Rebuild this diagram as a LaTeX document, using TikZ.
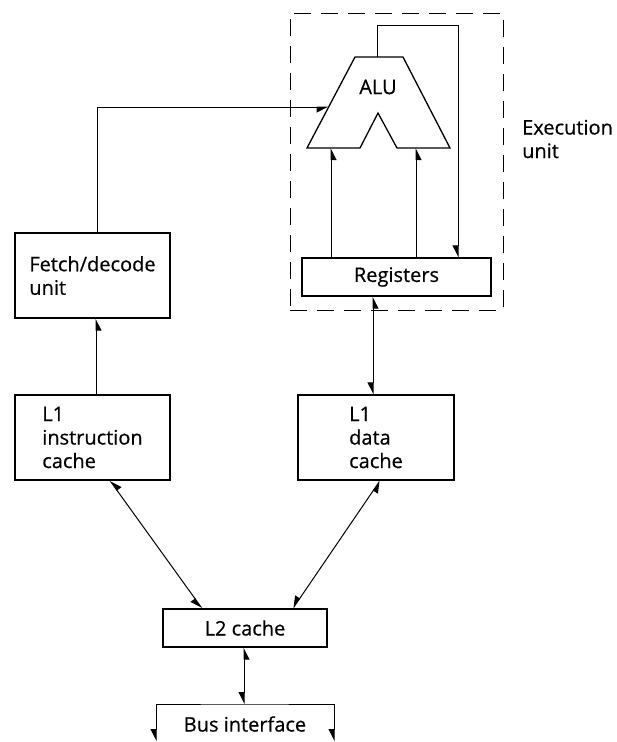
\documentclass[tikz,border=0pt]{standalone}
\usepackage{fontspec}
\setmainfont{Open Sans}[FakeBold=0.5]
\usetikzlibrary{arrows.meta}
\begin{document}
\begin{tikzpicture}[x=1pt,y=-1pt,
  txt/.style={font=\fontsize{20}{23.5}\selectfont, inner sep=0pt},
  box/.style={txt, draw, line width=1.3pt, align=left},
  conn/.style={line width=1pt},
  tip/.style={arrows={-Triangle[length=11pt,width=11pt,harpoon,swap]}},
  btip/.style={arrows={Triangle[length=11pt,width=11pt,harpoon,swap]-Triangle[length=11pt,width=11pt,harpoon,swap]}},
  unitbox/.style={draw, line width=0.9pt, dash pattern=on 17pt off 10pt, inner sep=0pt}]
\useasboundingbox (0,0) rectangle (617,742);
% execution unit frame
\node[unitbox, minimum width=213pt, minimum height=297pt] (exu) at (396.5,161.5) {};
\node[txt, anchor=base west, align=left] (exec) at (522,158) {Execution\\unit};
% boxes
\node[box, minimum width=155pt, minimum height=85pt] (fetch) at (92.5,275.5) {Fetch/decode\\unit};
\node[box, minimum width=155pt, minimum height=85pt] (l1i) at (92.5,437.5) {L1\\instruction\\cache};
\node[box, minimum width=156pt, minimum height=85pt] (l1d) at (376,437.5) {L1\\data\\cache};
\node[box, minimum width=189pt, minimum height=38pt] (reg) at (396.5,277) {Registers};
\node[box, minimum width=164pt, minimum height=38pt] (l2) at (245,628) {L2 cache};
\node[txt] (bus) at (245,724) {Bus interface};
% ALU
\coordinate (a1) at (355,57);
\coordinate (a2) at (403,57);
\coordinate (a3) at (450,148);
\coordinate (a4) at (397,148);
\coordinate (a5) at (378,113);
\coordinate (a6) at (360,148);
\coordinate (a7) at (307,148);
\draw[line width=1.3pt, line join=miter] (a1)--(a2)--(a3)--(a4)--(a5)--(a6)--(a7)--cycle;
\node[txt] (alu) at (378,87) {ALU};
% feedback ALU -> registers
\coordinate (alutop) at (377,57);
\coordinate (fb1) at (377,25);
\coordinate (fb2) at (458,25);
\draw[conn, tip] (alutop) -- (fb1) -- (fb2) -- (fb2 |- reg.north);
% registers -> ALU inputs
\coordinate (in1) at (331,148);
\coordinate (in2) at (416,148);
\draw[conn, tip] (in1 |- reg.north) -- (in1);
\draw[conn, tip] (in2 |- reg.north) -- (in2);
% fetch -> ALU
\coordinate (f1) at (97,107);
\coordinate (aluin) at (328.6,107);
\draw[conn, tip] (f1 |- fetch.north) -- (f1) -- (aluin);
% L1i -> fetch
\coordinate (c96) at (96,0);
\draw[conn, tip] (c96 |- l1i.north) -- (c96 |- fetch.south);
% registers <-> L1d
\coordinate (c373) at (373,0);
\draw[conn, btip] (c373 |- reg.south) -- (c373 |- l1d.north);
% L1 <-> L2
\coordinate (c110) at (110,0);
\coordinate (c202) at (202,0);
\coordinate (c380) at (380,0);
\coordinate (c293) at (293,0);
\draw[conn, btip] (c110 |- l1i.south) -- (c202 |- l2.north);
\draw[conn, btip] (c380 |- l1d.south) -- (c293 |- l2.north);
% L2 <-> bus
\coordinate (bt) at (244,704);
\coordinate (bl) at (156,741);
\coordinate (br) at (334,741);
\draw[conn, btip] (bt |- l2.south) -- (bt);
\draw[conn, btip] (bl) |- (bt) -| (br);
\end{tikzpicture}
\end{document}
